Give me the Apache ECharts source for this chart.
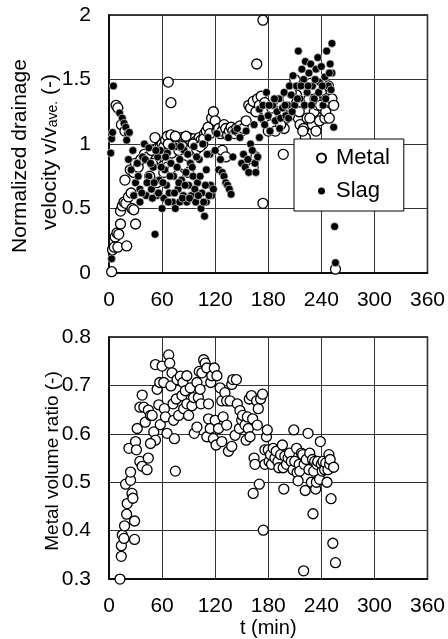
<!DOCTYPE html>
<html>
<head>
<meta charset="utf-8">
<script src="https://cdn.jsdelivr.net/npm/echarts@6/dist/echarts.min.js"></script>
<style>
  html, body { margin: 0; padding: 0; background: #fff; }
  #chart { width: 448px; height: 639px; }
</style>
</head>
<body>
<div id="chart"></div>
<script>
// time axis ticks (min)
const timeTicks = [0, 60, 120, 180, 240, 300, 360]

// top chart: normalized drainage velocity v/v_ave, [t, value]
const metalVelocity = [
  [3, 0.01], [4, 0.18], [6, 0.2], [7, 0.28], [9, 0.31], [10, 0.2], [11, 0.3], [13, 0.38],
  [13, 0.48], [15, 0.52], [17, 0.55], [19, 0.54], [20, 0.21], [22, 0.59], [25, 0.62], [26, 0.5],
  [28, 0.49], [30, 0.38], [18, 0.72], [24, 0.8], [28, 0.78], [30, 0.85], [33, 0.82], [36, 0.88],
  [40, 0.92], [44, 0.9], [48, 0.95], [52, 1.05], [55, 0.97], [58, 0.98], [60, 1.0],
  [8, 1.3], [10, 1.28], [14, 1.15], [18, 1.1],
  [62, 0.98], [64, 1.03], [66, 1.06], [68, 0.95], [70, 1.07], [72, 1.0], [74, 0.97], [76, 1.04],
  [78, 1.02], [80, 0.99], [82, 1.05], [84, 1.0], [86, 0.96], [88, 1.03], [90, 1.05], [92, 1.0],
  [94, 0.98], [96, 1.04], [98, 1.02], [100, 1.0], [102, 1.05], [104, 1.03], [106, 1.0], [108, 1.08],
  [63, 0.92], [67, 1.0], [71, 0.93], [75, 1.06], [79, 0.95], [83, 0.98], [87, 1.06], [91, 0.95],
  [95, 1.0], [99, 0.96], [103, 0.98], [107, 1.04], [57, 0.9], [53, 0.88], [49, 0.85],
  [62, 0.78], [66, 0.82], [72, 0.8], [78, 0.76], [84, 0.84], [90, 0.78], [46, 0.75], [54, 0.7],
  [110, 1.1], [112, 1.13], [114, 1.08], [116, 1.2], [118, 1.25], [120, 1.18], [122, 1.1], [124, 1.12],
  [126, 1.08], [128, 1.1], [130, 1.15], [132, 1.12], [134, 1.07], [136, 1.1], [138, 1.13], [140, 1.1],
  [142, 1.08], [144, 1.12], [146, 1.1], [148, 1.14], [150, 1.1], [152, 1.12], [155, 1.18], [158, 1.3],
  [160, 1.28], [160, 0.85], [163, 0.82], [166, 0.9], [128, 0.95], [132, 0.9],
  [163, 1.33], [166, 1.25], [168, 1.35], [170, 1.3], [172, 1.37], [175, 1.2], [178, 1.25], [180, 1.1],
  [183, 1.15], [186, 1.22], [188, 1.1], [190, 1.28], [192, 1.18], [195, 1.3], [198, 1.12], [200, 1.2],
  [202, 1.35], [205, 1.28], [208, 1.45], [210, 1.5], [212, 1.38], [214, 1.2], [216, 1.15], [218, 1.3],
  [220, 1.12], [222, 1.05], [224, 1.2], [226, 1.35], [228, 1.47], [230, 1.15], [232, 1.25], [234, 1.1],
  [236, 1.3], [238, 1.18], [240, 1.4], [242, 1.27], [244, 1.2], [246, 1.35], [248, 1.45], [250, 1.33],
  [252, 1.35], [254, 1.3],
  [176, 1.32], [184, 1.28], [194, 1.15], [204, 1.22], [206, 1.4], [215, 1.25], [219, 1.1], [227, 1.2],
  [233, 1.35], [239, 1.3], [245, 1.25], [249, 1.2],
  [174, 1.96], [167, 1.62], [174, 0.54], [197, 0.92], [256, 0.03], [67, 1.48], [70, 1.32]
]

const slagVelocity = [
  [2, 0.93], [3, 0.11], [3, 1.04], [4, 1.09], [5, 1.45], [12, 1.24], [15, 1.2], [17, 1.16],
  [19, 1.13], [21, 1.08], [20, 1.03], [23, 1.09],
  [22, 0.88], [25, 0.8], [27, 0.95], [30, 0.7], [32, 0.85], [35, 0.65], [35, 0.55], [38, 0.9],
  [40, 1.0], [42, 0.6], [45, 0.75], [45, 0.97], [48, 0.65], [50, 0.82], [52, 0.3], [54, 0.6],
  [55, 0.9], [57, 0.72], [58, 0.95], [60, 0.5], [62, 0.58], [63, 0.8], [65, 0.68], [66, 0.93],
  [68, 0.62], [70, 0.85], [72, 0.55], [73, 0.75], [75, 0.5], [76, 0.98], [78, 0.65], [80, 0.55],
  [80, 0.88], [82, 0.72], [84, 0.6], [85, 0.95], [87, 0.78], [88, 0.55], [90, 0.68], [92, 0.85],
  [93, 0.6], [95, 0.75], [96, 0.98], [98, 0.55], [100, 0.7], [102, 0.88], [104, 0.5], [105, 0.62],
  [106, 1.0], [108, 0.44], [110, 0.55], [110, 0.8], [112, 1.05], [114, 0.92], [115, 0.68], [116, 0.6],
  [28, 0.6], [33, 0.75], [37, 0.62], [41, 0.88], [43, 0.7], [47, 0.85], [49, 0.58], [51, 0.7],
  [53, 0.95], [56, 0.62], [59, 0.82], [61, 0.7], [64, 0.9], [67, 0.55], [69, 0.75], [71, 0.98],
  [74, 0.62], [77, 0.82], [79, 0.7], [81, 0.98], [83, 0.58], [86, 0.68], [89, 0.92], [91, 0.58],
  [94, 0.82], [97, 0.65], [99, 0.9], [101, 0.6], [103, 0.75], [107, 0.55], [109, 0.68], [111, 0.92],
  [113, 0.6],
  [118, 0.65], [120, 0.95], [122, 1.08], [124, 0.8], [126, 0.88], [128, 0.78], [130, 0.75], [132, 0.7],
  [134, 0.68], [136, 0.65], [138, 0.61], [140, 0.9], [135, 1.05], [142, 1.1], [145, 1.12], [148, 1.05],
  [150, 0.85], [152, 0.92], [154, 0.82], [155, 1.1], [157, 0.88], [158, 0.78], [160, 1.0], [162, 0.95],
  [164, 1.15], [165, 0.85], [166, 0.78], [168, 0.9], [170, 1.05], [170, 1.27], [172, 1.2], [174, 1.3],
  [176, 1.15], [178, 1.4], [180, 1.22], [182, 1.1], [185, 1.3], [188, 1.18], [190, 1.25], [192, 1.35],
  [194, 1.2], [196, 1.28], [198, 1.4], [200, 1.22], [202, 1.3], [204, 1.45], [206, 1.38], [208, 1.53],
  [210, 1.3], [212, 1.45], [214, 1.72], [216, 1.35], [218, 1.58], [220, 1.5], [222, 1.64], [224, 1.4],
  [226, 1.55], [228, 1.62], [230, 1.45], [232, 1.35], [234, 1.58], [236, 1.67], [238, 1.48], [240, 1.6],
  [242, 1.3], [244, 1.52], [246, 1.72], [248, 1.45], [250, 1.62], [252, 1.78], [252, 1.55], [254, 1.13],
  [181, 1.3], [187, 1.35], [193, 1.12], [199, 1.3], [203, 1.2], [207, 1.25], [213, 1.35], [217, 1.45],
  [221, 1.3], [225, 1.45], [229, 1.3], [233, 1.5], [237, 1.4], [241, 1.45], [245, 1.35], [249, 1.55],
  [251, 1.42],
  [255, 0.36], [256, 0.08]
]

// bottom chart: metal volume ratio, [t, value]
const metalRatio = [
  [12.4, 0.3], [13.9, 0.347], [14, 0.369], [15, 0.391], [16.9, 0.384], [17.6, 0.41], [19.9, 0.434],
  [20.6, 0.456], [18.8, 0.496], [24.4, 0.504], [24.4, 0.521], [26, 0.477], [27, 0.467], [28.9, 0.42],
  [28.9, 0.382], [22.5, 0.57], [30, 0.584], [31, 0.567], [31.9, 0.611], [34.9, 0.655], [37.5, 0.68],
  [34.9, 0.543], [37.5, 0.533], [39.4, 0.655], [43, 0.526], [44.4, 0.55], [41, 0.624], [44.5, 0.649],
  [46.9, 0.638], [48.75, 0.638], [50.6, 0.604], [52.5, 0.587], [46.9, 0.58], [52.5, 0.743], [54.4, 0.692],
  [57.4, 0.706], [56.25, 0.66], [58, 0.619], [60, 0.74], [61.9, 0.706], [62.6, 0.652], [63.8, 0.635],
  [65.6, 0.601], [67.5, 0.763], [68.6, 0.746], [70, 0.699], [71.25, 0.726], [72.4, 0.662], [73, 0.628],
  [74, 0.59], [75, 0.523], [76.9, 0.712], [76, 0.672], [78.75, 0.638], [80.6, 0.719], [82.5, 0.679],
  [83.6, 0.706], [84.4, 0.652], [86.25, 0.689], [88, 0.662], [88, 0.72], [90, 0.638], [91.9, 0.695],
  [93.75, 0.658], [95.6, 0.675], [96.4, 0.601], [99.4, 0.706], [99.4, 0.614], [101, 0.675], [102, 0.729],
  [103, 0.692], [104, 0.662], [105, 0.726], [107, 0.753], [108.75, 0.746], [110.6, 0.736], [112.5, 0.662],
  [110.6, 0.594], [112.5, 0.631], [114.4, 0.611], [115, 0.706], [116.25, 0.72], [118, 0.59], [119, 0.736],
  [120, 0.628], [121, 0.577], [122, 0.72], [123.75, 0.611], [125.6, 0.695], [127.5, 0.668], [127.5, 0.584],
  [129, 0.635], [131, 0.685], [133, 0.618], [133, 0.668], [135, 0.564], [136.9, 0.668], [138.75, 0.702],
  [138.75, 0.574], [140, 0.712], [142.5, 0.597], [144, 0.712], [145, 0.662], [147.4, 0.611], [148, 0.648],
  [150, 0.628], [151, 0.638], [153.75, 0.618], [155, 0.587], [156.4, 0.635], [157.5, 0.611], [158.6, 0.672],
  [159.4, 0.594], [161, 0.679], [162.4, 0.631], [164, 0.55], [165, 0.537], [163, 0.477], [166.9, 0.668],
  [167.6, 0.618], [168.75, 0.652], [169.9, 0.496], [171.4, 0.672], [173.6, 0.682],
  [174.4, 0.401], [176.25, 0.567], [176.25, 0.537], [178, 0.594], [178.9, 0.608], [180, 0.567], [181, 0.543],
  [182.6, 0.557], [183.75, 0.537], [185.6, 0.57], [187.5, 0.55], [189, 0.564], [191, 0.543], [192, 0.53],
  [194, 0.557], [196, 0.577], [196.9, 0.53], [197.6, 0.486], [198.75, 0.554], [200.6, 0.537], [202.5, 0.55],
  [204, 0.56], [206, 0.543], [208, 0.526], [208.9, 0.608], [210, 0.543], [212, 0.57], [212.6, 0.52],
  [213.75, 0.503], [215, 0.537], [215.6, 0.523], [217.5, 0.56], [219, 0.557], [220, 0.317], [220.6, 0.537],
  [221.8, 0.483], [223, 0.547], [225, 0.601], [226, 0.526], [226.9, 0.56], [228.75, 0.5], [230, 0.547],
  [230.6, 0.435], [231.4, 0.523], [232.5, 0.543], [233.6, 0.486], [234.4, 0.5], [235, 0.537], [236, 0.543],
  [238, 0.506], [238.9, 0.584], [240, 0.537], [241, 0.523], [241.9, 0.543], [243.75, 0.526], [245, 0.54],
  [246.4, 0.5], [247.5, 0.526], [248.6, 0.557], [249.4, 0.537], [250, 0.547], [251, 0.466], [253, 0.374],
  [253.9, 0.531], [256, 0.334]
]

const font = 'Liberation Sans, Arial, sans-serif'

const chart = echarts.init(document.getElementById('chart'))

const xAxisBase = {
  type: 'value',
  min: timeTicks[0],
  max: timeTicks[timeTicks.length - 1],
  interval: 60,
  axisLine: { show: true, lineStyle: { color: '#000', width: 1.5 } },
  axisTick: { show: false },
  axisLabel: { color: '#000', fontSize: 21, fontFamily: font, margin: 17 },
  splitLine: { show: true, lineStyle: { color: '#333', width: 1 } }
}

const yAxisBase = {
  type: 'value',
  axisLine: { show: true, lineStyle: { color: '#000', width: 1.5 } },
  axisTick: { show: false },
  splitLine: { show: true, lineStyle: { color: '#333', width: 1 } }
}

const option = {
  animation: false,
  backgroundColor: '#fff',
  grid: [
    { left: 109, top: 15, width: 319, height: 258, show: true, borderColor: '#000', borderWidth: 1.5 },
    { left: 109, top: 337, width: 319, height: 246, show: true, borderColor: '#000', borderWidth: 1.5 }
  ],
  xAxis: [
    Object.assign({}, xAxisBase, { gridIndex: 0 }),
    Object.assign({}, xAxisBase, {
      gridIndex: 1,
      name: 't (min)',
      nameLocation: 'middle',
      nameGap: 35,
      nameTextStyle: { color: '#000', fontSize: 20, fontFamily: font }
    })
  ],
  yAxis: [
    Object.assign({}, yAxisBase, {
      gridIndex: 0,
      min: 0,
      max: 2,
      interval: 0.5,
      axisLabel: { color: '#000', fontSize: 21, fontFamily: font, margin: 18 }
    }),
    Object.assign({}, yAxisBase, {
      gridIndex: 1,
      min: 0.3,
      max: 0.8,
      interval: 0.1,
      axisLabel: {
        color: '#000', fontSize: 21, fontFamily: font, margin: 18,
        formatter: v => v.toFixed(1)
      }
    })
  ],
  legend: {
    data: ['Metal', 'Slag'],
    orient: 'vertical',
    left: 294,
    top: 139,
    padding: [8, 14, 9, 22],
    itemGap: 11,
    itemWidth: 9,
    itemHeight: 9,
    backgroundColor: '#fff',
    borderColor: '#000',
    borderWidth: 1,
    textStyle: { color: '#000', fontSize: 22, fontFamily: font, padding: [0, 0, 0, 5] }
  },
  graphic: [
    {
      type: 'text', x: 20, y: 156, rotation: Math.PI / 2,
      style: {
        text: 'Normalized drainage', fill: '#000', fontSize: 21, fontFamily: font,
        textAlign: 'center', textVerticalAlign: 'middle'
      }
    },
    {
      type: 'text', x: 50, y: 152, rotation: Math.PI / 2,
      style: {
        text: 'velocity v/v{sub|ave.} (-)', fill: '#000', fontSize: 21, fontFamily: font,
        textAlign: 'center', textVerticalAlign: 'middle',
        rich: { sub: { fontSize: 14, fontFamily: font, fill: '#000', padding: [6, 0, 0, 0] } }
      }
    },
    {
      type: 'text', x: 53, y: 461, rotation: Math.PI / 2,
      style: {
        text: 'Metal volume ratio (-)', fill: '#000', fontSize: 19, fontFamily: font,
        textAlign: 'center', textVerticalAlign: 'middle'
      }
    }
  ],
  series: [
    {
      name: 'Metal',
      type: 'scatter',
      xAxisIndex: 0,
      yAxisIndex: 0,
      data: metalVelocity,
      symbol: 'circle',
      symbolSize: 10,
      itemStyle: { color: '#fff', borderColor: '#000', borderWidth: 1.3, opacity: 1 }
    },
    {
      name: 'Slag',
      type: 'scatter',
      xAxisIndex: 0,
      yAxisIndex: 0,
      data: slagVelocity,
      symbol: 'circle',
      symbolSize: 8,
      itemStyle: { color: '#000', borderColor: '#fff', borderWidth: 0.6, opacity: 1 }
    },
    {
      name: 'Metal volume ratio',
      type: 'scatter',
      xAxisIndex: 1,
      yAxisIndex: 1,
      data: metalRatio,
      symbol: 'circle',
      symbolSize: 10,
      itemStyle: { color: '#fff', borderColor: '#000', borderWidth: 1.3, opacity: 1 }
    }
  ]
}

chart.setOption(option)
window.addEventListener('resize', () => chart.resize())
</script>
</body>
</html>
